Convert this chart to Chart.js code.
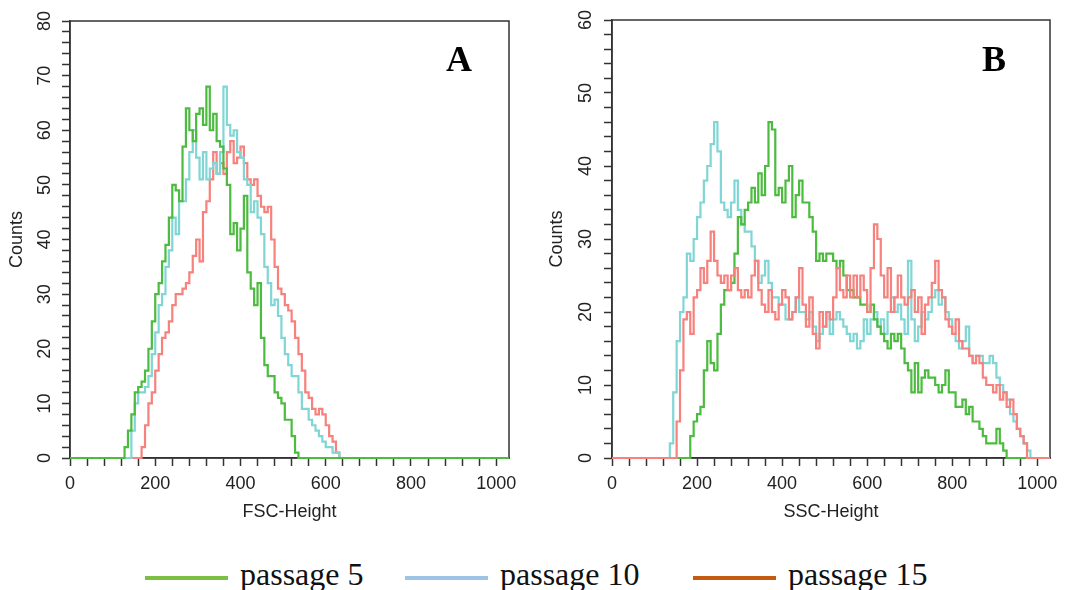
<!DOCTYPE html>
<html>
<head>
<meta charset="utf-8">
<script src="https://cdn.jsdelivr.net/npm/chart.js@4"></script>
<style>
  html, body { margin: 0; padding: 0; background: #fff; }
  #wrap { position: relative; width: 1068px; height: 590px; overflow: hidden; }
  .panel { position: absolute; top: 0; }
  #panelA { left: 0; }
  #panelB { left: 540px; }
  #legend { position: absolute; top: 558px; left: 0; width: 1068px; height: 32px;
    font-family: "Liberation Serif", "Times New Roman", serif; font-size: 32px; color: #111; }
  .item { position: absolute; top: 0; line-height: 32px; white-space: nowrap; }
  .swatch { display: inline-block; width: 83px; height: 4px; vertical-align: middle; margin-right: 12px; }
</style>
</head>
<body>
<div id="wrap">
  <canvas id="panelA" class="panel" width="530" height="530"></canvas>
  <canvas id="panelB" class="panel" width="528" height="530"></canvas>
  <div id="legend"></div>
</div>
<script>
// histogram bins: each value is the count of one channel bin, bins are binWidth wide
const binWidth = 8
const fscStart = 112
const sscStart = 128
const axisMax = 1030

const seriesNames = ['passage 5', 'passage 10', 'passage 15']
const lineColors = ['#4cbb3f', '#80d6d4', '#f7817c']
const legendColors = ['#7cc043', '#9dc3e6', '#c55a11']

// panel A, FSC-Height
const fscP5 = [
  0, 0, 2, 5, 8, 12, 13, 14,
  16, 20, 25, 30, 32, 36, 39, 44,
  50, 49, 47, 57, 64, 60, 58, 63,
  64, 61, 68, 60, 63, 58, 57, 53,
  50, 41, 43, 38, 42, 48, 34, 31,
  28, 32, 22, 17, 15, 15, 12, 11,
  10, 7, 7, 4, 1, 0, 0, 0,
  0, 0, 0, 0, 0, 0, 0, 0,
  0, 0, 0, 0,
]
const fscP10 = [
  0, 0, 0, 0, 5, 10, 12, 12,
  13, 15, 19, 23, 28, 30, 35, 38,
  44, 41, 47, 47, 51, 56, 60, 55,
  51, 56, 51, 53, 54, 52, 56, 68,
  61, 59, 60, 56, 55, 51, 50, 45,
  47, 44, 41, 35, 32, 28, 29, 26,
  22, 19, 17, 15, 15, 12, 9, 9,
  7, 6, 5, 4, 3, 2, 2, 1,
  1, 0, 0, 0,
]
const fscP15 = [
  0, 0, 0, 0, 0, 0, 0, 2,
  6, 10, 12, 16, 19, 22, 23, 25,
  28, 30, 30, 31, 32, 34, 37, 40,
  36, 45, 47, 51, 56, 52, 54, 52,
  56, 58, 54, 55, 57, 54, 51, 50,
  51, 48, 46, 45, 46, 40, 35, 31,
  30, 28, 27, 25, 22, 19, 16, 12,
  11, 9, 8, 9, 8, 6, 4, 3,
  1, 0, 0, 0,
]

// panel B, SSC-Height
const sscP5 = [
  0, 0, 0, 0, 0, 0, 0, 3,
  5, 6, 7, 12, 16, 13, 12, 17,
  21, 23, 23, 24, 28, 33, 32, 34,
  35, 37, 35, 39, 36, 40, 46, 45,
  36, 37, 35, 38, 40, 33, 36, 38,
  35, 35, 33, 31, 27, 28, 27, 28,
  28, 27, 26, 27, 25, 23, 23, 22,
  22, 21, 21, 20, 21, 19, 18, 17,
  16, 15, 17, 16, 17, 15, 13, 12,
  9, 13, 9, 11, 12, 11, 11, 10,
  9, 10, 12, 9, 9, 7, 7, 8,
  6, 7, 5, 5, 4, 3, 2, 2,
  2, 4, 2, 1, 0, 0, 0, 0,
  0, 0, 0, 0,
]
const sscP10 = [
  0, 2, 9, 16, 20, 22, 28, 27,
  30, 33, 35, 38, 40, 43, 46, 42,
  35, 34, 33, 35, 38, 34, 32, 31,
  31, 29, 27, 24, 25, 27, 24, 22,
  22, 21, 21, 19, 19, 20, 22, 20,
  20, 19, 20, 18, 16, 17, 18, 20,
  17, 19, 20, 19, 18, 17, 16, 17,
  15, 16, 19, 17, 19, 20, 18, 19,
  17, 20, 22, 20, 21, 19, 17, 27,
  19, 16, 18, 20, 19, 20, 22, 23,
  21, 22, 20, 19, 17, 16, 15, 16,
  18, 14, 13, 14, 14, 13, 13, 14,
  13, 11, 10, 9, 8, 6, 5, 4,
  3, 2, 1, 0,
]
const sscP15 = [
  0, 0, 0, 5, 12, 19, 20, 17,
  22, 23, 26, 24, 27, 31, 27, 25,
  24, 25, 23, 25, 26, 23, 22, 23,
  22, 25, 27, 23, 21, 20, 23, 20,
  19, 21, 23, 22, 19, 20, 22, 26,
  21, 18, 22, 17, 15, 20, 18, 20,
  19, 22, 26, 23, 22, 25, 22, 25,
  22, 25, 23, 20, 26, 32, 30, 25,
  22, 26, 20, 22, 25, 22, 21, 22,
  23, 20, 22, 17, 21, 22, 24, 27,
  23, 22, 19, 18, 17, 19, 16, 15,
  15, 14, 13, 14, 13, 11, 10, 10,
  9, 10, 8, 9, 7, 8, 6, 4,
  3, 2, 0, 0,
]

// turn a bin array into step points, with the zero baseline on both sides
function toSteps(start, counts) {
  const pts = [{ x: 0, y: 0 }]
  counts.forEach((c, i) => pts.push({ x: start + i * binWidth, y: c }))
  pts.push({ x: start + counts.length * binWidth, y: 0 })
  pts.push({ x: axisMax, y: 0 })
  return pts
}

function dataset(idx, start, counts) {
  return {
    label: seriesNames[idx],
    data: toSteps(start, counts),
    borderColor: lineColors[idx],
    borderWidth: 2.2,
    stepped: true,
    pointRadius: 0,
    fill: false,
    clip: 3,
  }
}

const framePlugin = {
  id: 'frame',
  beforeDatasetsDraw(chart) {
    const { ctx, chartArea: a } = chart
    ctx.save()
    ctx.strokeStyle = '#333'
    ctx.lineWidth = 1.5
    ctx.strokeRect(a.left, a.top, a.right - a.left, a.bottom - a.top)
    ctx.restore()
  },
}

const letterPlugin = {
  id: 'panelLetter',
  afterDraw(chart, args, opts) {
    const { ctx, chartArea: a } = chart
    ctx.save()
    ctx.font = 'bold 36px "Liberation Serif", "Times New Roman", serif'
    ctx.fillStyle = '#000'
    ctx.textAlign = 'center'
    ctx.fillText(opts.text, a.right - opts.dx, a.top + opts.dy)
    ctx.restore()
  },
}

Chart.defaults.font.family = '"Liberation Sans", Arial, sans-serif'
Chart.defaults.font.size = 18
Chart.defaults.color = '#222'

function makeOptions(cfg) {
  return {
    animation: false,
    responsive: false,
    layout: { padding: cfg.padding },
    plugins: {
      legend: { display: false },
      tooltip: { enabled: false },
      panelLetter: { text: cfg.letter, dx: cfg.letterDx, dy: cfg.letterDy },
    },
    scales: {
      x: {
        type: 'linear',
        min: 0,
        max: axisMax,
        afterFit: (s) => { s.height = 72 },
        border: { color: '#333', width: 1.5 },
        grid: { drawOnChartArea: false, tickLength: 8, color: '#333', tickWidth: 1.5 },
        ticks: {
          stepSize: 40,
          includeBounds: false,
          autoSkip: false,
          minRotation: 0,
          maxRotation: 0,
          padding: 7,
          callback: (v) => (v % 200 === 0 ? String(v) : ''),
        },
        title: { display: true, text: cfg.xTitle, padding: { top: 0, bottom: 7 } },
      },
      y: {
        min: 0,
        max: cfg.yMax,
        afterFit: (s) => { s.width = cfg.yWidth },
        border: { color: '#333', width: 1.5 },
        grid: { drawOnChartArea: false, tickLength: 8, color: '#333', tickWidth: 1.5 },
        ticks: {
          stepSize: 2,
          autoSkip: false,
          minRotation: 90,
          maxRotation: 90,
          crossAlign: 'center',
          padding: cfg.yPad,
          callback: (v) => (v % 10 === 0 ? String(v) : ''),
        },
        title: { display: true, text: 'Counts', padding: { top: 6, bottom: 0 } },
      },
    },
  }
}

window.chartA = new Chart(document.getElementById('panelA'), {
  type: 'line',
  data: {
    datasets: [
      dataset(0, fscStart, fscP5),
      dataset(1, fscStart, fscP10),
      dataset(2, fscStart, fscP15),
    ],
  },
  options: makeOptions({
    padding: { top: 21, right: 21, bottom: 0, left: 0 },
    yMax: 80, yWidth: 70, yPad: 7,
    xTitle: 'FSC-Height', letter: 'A', letterDx: 50, letterDy: 50,
  }),
  plugins: [framePlugin, letterPlugin],
})

window.chartB = new Chart(document.getElementById('panelB'), {
  type: 'line',
  data: {
    datasets: [
      dataset(2, sscStart, sscP15),
      dataset(0, sscStart, sscP5),
      dataset(1, sscStart, sscP10),
    ],
  },
  options: makeOptions({
    padding: { top: 20, right: 18, bottom: 0, left: 0 },
    yMax: 60, yWidth: 72, yPad: 8,
    xTitle: 'SSC-Height', letter: 'B', letterDx: 56, letterDy: 51,
  }),
  plugins: [framePlugin, letterPlugin],
})

// legend under both panels
const legendLeft = [145, 405, 693]
const legendEl = document.getElementById('legend')
seriesNames.forEach((name, i) => {
  const item = document.createElement('div')
  item.className = 'item'
  item.style.left = legendLeft[i] + 'px'
  const sw = document.createElement('span')
  sw.className = 'swatch'
  sw.style.background = legendColors[i]
  item.appendChild(sw)
  item.appendChild(document.createTextNode(name))
  legendEl.appendChild(item)
})
</script>
</body>
</html>
